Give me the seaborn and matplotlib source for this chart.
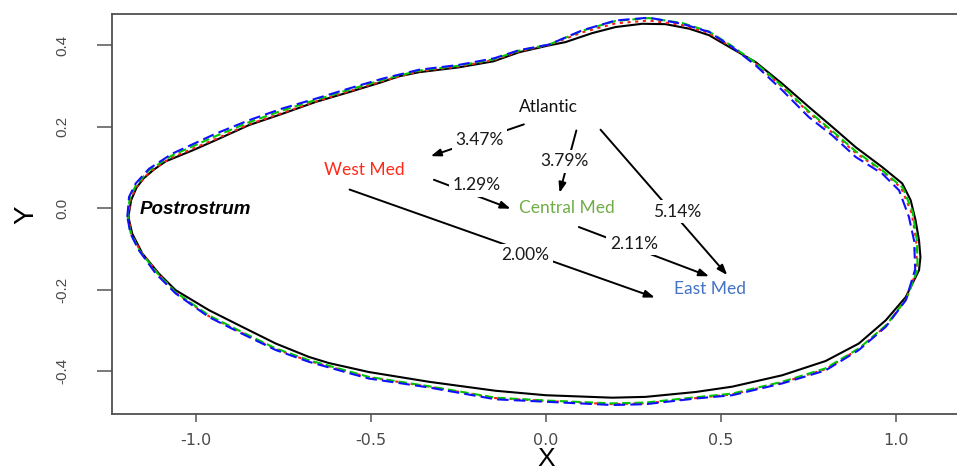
import matplotlib
matplotlib.use('Agg')
import numpy as np
import pandas as pd
import matplotlib.pyplot as plt
import seaborn as sns
from matplotlib import font_manager

# outline coordinates (clockwise from the postrostrum tip)
atlantic_x = [-1.193, -1.185, -1.170, -1.150, -1.120, -1.087, -1.010, -0.944, -0.849, -0.753,
              -0.658, -0.563, -0.468, -0.420, -0.363, -0.249, -0.149, -0.077, 0.009, 0.056,
              0.132, 0.199, 0.275, 0.342, 0.409, 0.466, 0.532, 0.599, 0.675, 0.751,
              0.818, 0.885, 0.961, 1.018, 1.042, 1.056, 1.066, 1.070, 1.066, 1.028,
              0.971, 0.894, 0.799, 0.675, 0.532, 0.428, 0.285, 0.190, 0.000, -0.144,
              -0.334, -0.506, -0.620, -0.677, -0.772, -0.868, -0.963, -1.058, -1.106, -1.153,
              -1.182, -1.193]
atlantic_y = [-0.021, 0.020, 0.050, 0.073, 0.095, 0.115, 0.142, 0.167, 0.204, 0.232,
              0.261, 0.285, 0.310, 0.324, 0.334, 0.346, 0.361, 0.383, 0.400, 0.408,
              0.430, 0.445, 0.453, 0.452, 0.441, 0.425, 0.392, 0.359, 0.306, 0.249,
              0.200, 0.150, 0.101, 0.061, 0.020, -0.029, -0.079, -0.120, -0.152, -0.218,
              -0.275, -0.332, -0.375, -0.410, -0.438, -0.451, -0.463, -0.465, -0.459, -0.448,
              -0.426, -0.402, -0.380, -0.365, -0.332, -0.291, -0.250, -0.201, -0.160, -0.111,
              -0.062, -0.021]

westmed_x = [-1.193, -1.186, -1.170, -1.134, -1.075, -0.944, -0.849, -0.753, -0.658, -0.563,
             -0.468, -0.363, -0.249, -0.149, -0.077, 0.009, 0.104, 0.199, 0.294, 0.389,
             0.466, 0.532, 0.599, 0.675, 0.751, 0.818, 0.885, 0.961, 1.015, 1.045,
             1.058, 1.060, 1.030, 0.972, 0.895, 0.799, 0.675, 0.532, 0.428, 0.285,
             0.190, 0.000, -0.144, -0.334, -0.506, -0.677, -0.772, -0.868, -0.963, -1.058,
             -1.110, -1.158, -1.185, -1.193]
westmed_y = [-0.021, 0.024, 0.052, 0.088, 0.122, 0.170, 0.206, 0.234, 0.262, 0.287,
             0.312, 0.336, 0.348, 0.364, 0.385, 0.401, 0.432, 0.454, 0.461, 0.450,
             0.430, 0.395, 0.355, 0.298, 0.235, 0.186, 0.136, 0.091, 0.050, -0.012,
             -0.080, -0.150, -0.222, -0.288, -0.345, -0.395, -0.428, -0.457, -0.466, -0.479,
             -0.481, -0.473, -0.466, -0.438, -0.415, -0.375, -0.346, -0.306, -0.265, -0.207,
             -0.158, -0.106, -0.062, -0.021]

centralmed_x = [-1.195, -1.189, -1.171, -1.134, -1.070, -0.944, -0.849, -0.753, -0.658, -0.563,
                -0.468, -0.363, -0.249, -0.149, -0.077, 0.009, 0.104, 0.199, 0.294, 0.389,
                0.466, 0.532, 0.599, 0.675, 0.751, 0.818, 0.885, 0.961, 1.020, 1.048,
                1.060, 1.062, 1.030, 0.973, 0.896, 0.799, 0.675, 0.532, 0.428, 0.285,
                0.190, 0.000, -0.144, -0.334, -0.506, -0.677, -0.772, -0.868, -0.963, -1.058,
                -1.112, -1.160, -1.186, -1.195]
centralmed_y = [-0.021, 0.026, 0.057, 0.093, 0.129, 0.177, 0.211, 0.240, 0.266, 0.291,
                0.315, 0.338, 0.350, 0.366, 0.387, 0.402, 0.436, 0.460, 0.467, 0.455,
                0.434, 0.398, 0.357, 0.300, 0.238, 0.190, 0.140, 0.093, 0.050, -0.010,
                -0.080, -0.150, -0.222, -0.286, -0.343, -0.393, -0.426, -0.455, -0.464, -0.477,
                -0.479, -0.472, -0.465, -0.437, -0.414, -0.373, -0.344, -0.304, -0.263, -0.206,
                -0.158, -0.105, -0.062, -0.021]

eastmed_x = [-1.196, -1.191, -1.172, -1.134, -1.068, -0.944, -0.849, -0.753, -0.658, -0.563,
             -0.468, -0.363, -0.249, -0.149, -0.077, 0.009, 0.104, 0.199, 0.294, 0.389,
             0.466, 0.532, 0.599, 0.675, 0.751, 0.818, 0.885, 0.961, 1.009, 1.037,
             1.052, 1.055, 1.028, 0.971, 0.894, 0.799, 0.675, 0.532, 0.428, 0.285,
             0.190, 0.000, -0.144, -0.334, -0.506, -0.553, -0.677, -0.772, -0.868, -0.963,
             -1.058, -1.115, -1.163, -1.187, -1.196]
eastmed_y = [-0.021, 0.028, 0.061, 0.097, 0.134, 0.183, 0.216, 0.245, 0.269, 0.294,
             0.318, 0.340, 0.352, 0.368, 0.388, 0.402, 0.437, 0.461, 0.468, 0.453,
             0.433, 0.396, 0.351, 0.290, 0.224, 0.179, 0.126, 0.085, 0.044, -0.021,
             -0.080, -0.150, -0.226, -0.291, -0.348, -0.398, -0.430, -0.459, -0.467, -0.481,
             -0.483, -0.475, -0.469, -0.440, -0.418, -0.407, -0.377, -0.348, -0.308, -0.267,
             -0.209, -0.160, -0.103, -0.062, -0.021]

populations = ['Atlantic', 'West Med', 'Central Med', 'East Med']
line_colors = ['#000000', '#ff1a1a', '#00c800', '#1010ff']
text_colors = ['#111111', '#ff2a1a', '#70ad47', '#4472c4']
label_x = [0.007, -0.519, 0.059, 0.469]
label_y = [0.249, 0.093, 0.001, -0.199]

# pairwise differences, each sitting on the arrow with the same index
pct_labels = ['3.47%', '3.79%', '1.29%', '5.14%', '2.11%', '2.00%']
pct_x = [-0.189, 0.053, -0.199, 0.374, 0.251, -0.059]
pct_y = [0.167, 0.116, 0.056, -0.009, -0.087, -0.115]
arrow_x0 = [-0.063, 0.087, -0.320, 0.156, 0.094, -0.561]
arrow_y0 = [0.206, 0.191, 0.070, 0.193, -0.046, 0.046]
arrow_x1 = [-0.329, 0.039, -0.101, 0.518, 0.466, 0.311]
arrow_y1 = [0.128, 0.038, -0.001, -0.164, -0.167, -0.219]

x_ticks = [-1.0, -0.5, 0.0, 0.5, 1.0]
x_ticklabels = ['-1.0', '-0.5', '0.0', '0.5', '1.0']
y_ticks = [-0.4, -0.2, 0.0, 0.2, 0.4]
y_ticklabels = ['-0.4', '-0.2', '0.0', '0.2', '0.4']

outlines = {'Atlantic': (atlantic_x, atlantic_y),
            'West Med': (westmed_x, westmed_y),
            'Central Med': (centralmed_x, centralmed_y),
            'East Med': (eastmed_x, eastmed_y)}
frames = []
for name in populations:
    xs, ys = outlines[name]
    frames.append(pd.DataFrame({'x': xs, 'y': ys, 'pop': name}))
df = pd.concat(frames, ignore_index=True)

sns.set_theme(style='white')
names = {f.name for f in font_manager.fontManager.ttflist}
narrow = 'Liberation Sans Narrow' if 'Liberation Sans Narrow' in names else 'Liberation Sans'
plt.rcParams['font.family'] = ['Liberation Sans', 'DejaVu Sans']

fig = plt.figure(figsize=(9.57, 4.76), dpi=100)
ax = fig.add_axes([0.1173, 0.1303, 0.8924, 0.8403])

sns.lineplot(data=df, x='x', y='y', hue='pop', style='pop', hue_order=populations,
             style_order=populations, palette=dict(zip(populations, line_colors)),
             dashes={'Atlantic': '', 'West Med': (1.5, 2.2), 'Central Med': (4, 2),
                     'East Med': (5.5, 2.5)},
             sort=False, estimator=None, linewidth=1.5, legend=False, ax=ax)

ax.set_xlim(-1.239, 1.201)
ax.set_ylim(-0.505, 0.477)

for name, tx, ty, c in zip(populations, label_x, label_y, text_colors):
    ax.text(tx, ty, name, color=c, ha='center', va='center', fontsize=12.5,
            family=['Lato', 'DejaVu Sans'], zorder=6)

for i in range(len(arrow_x0)):
    ax.annotate('', xy=(arrow_x1[i], arrow_y1[i]), xytext=(arrow_x0[i], arrow_y0[i]),
                arrowprops=dict(arrowstyle='-|>,head_length=0.6,head_width=0.22',
                                color='black', lw=1.4, shrinkA=0, shrinkB=0,
                                mutation_scale=10),
                zorder=4)

for lab, tx, ty in zip(pct_labels, pct_x, pct_y):
    ax.text(tx, ty, lab, color='#1a1a1a', ha='center', va='center', fontsize=12.5,
            family=['Lato', 'DejaVu Sans'], zorder=6,
            bbox=dict(facecolor='white', edgecolor='none', pad=2.5))

ax.text(-1.16, -0.002, 'Postrostrum', fontsize=13.5, fontweight='bold', fontstyle='italic',
        ha='left', va='center', color='black', zorder=6)

ax.set_xticks(x_ticks)
ax.set_xticklabels(x_ticklabels, family=['DejaVu Sans'], fontsize=11.5, color='#4a4a4a')
ax.set_yticks(y_ticks)
ax.set_yticklabels(y_ticklabels, fontsize=11, color='#4a4a4a', rotation=90,
                   va='center', ha='right')
ax.tick_params(axis='x', direction='out', length=5.5, width=1.1, color='#555555',
               pad=8, bottom=True)
ax.tick_params(axis='y', direction='out', length=11, width=1.1, color='#555555',
               pad=20, left=True)

for side in ['left', 'bottom', 'top', 'right']:
    ax.spines[side].set_color('#505050')
    ax.spines[side].set_linewidth(1.3)

ax.set_xlabel('X', fontsize=19, family=[narrow, 'DejaVu Sans'], color='black')
ax.set_ylabel('Y', fontsize=20, family=[narrow, 'DejaVu Sans'], color='black')
ax.xaxis.set_label_coords(0.508, -0.083)
ax.yaxis.set_label_coords(-0.0858, 0.4975)

fig.savefig('out.png', dpi=100, facecolor='white')
